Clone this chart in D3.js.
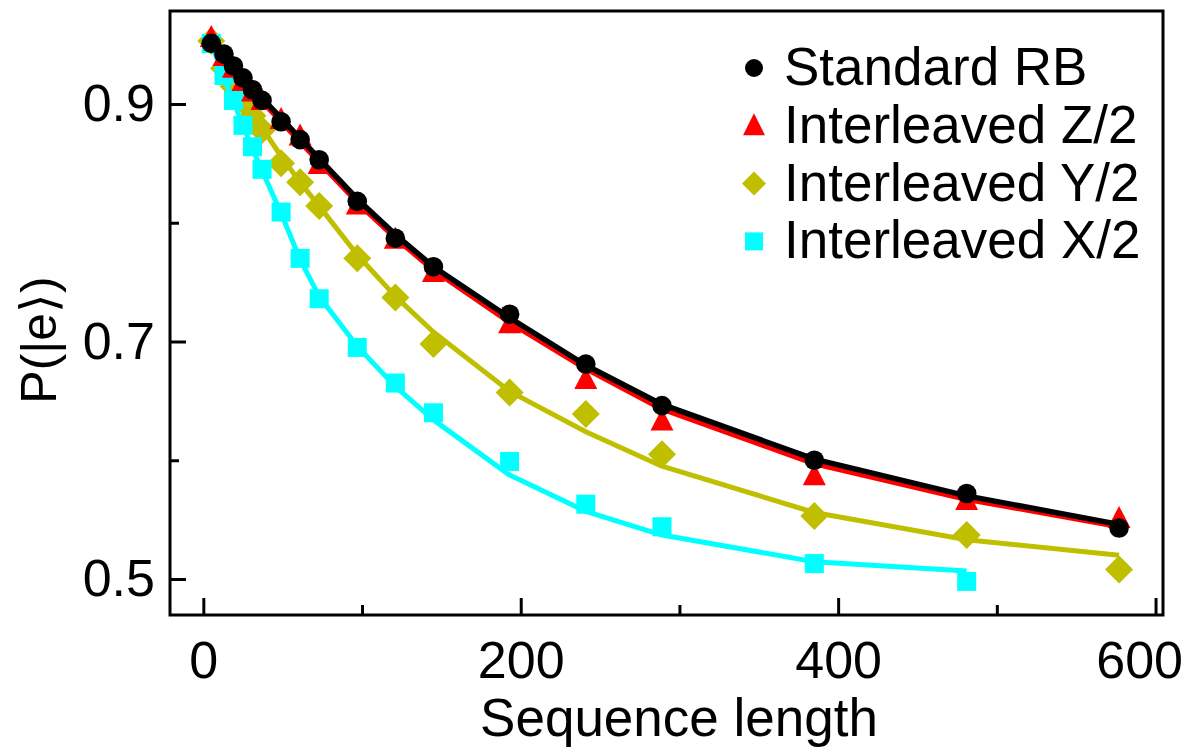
<!DOCTYPE html>
<html>
<head>
<meta charset="utf-8">
<script src="https://cdn.jsdelivr.net/npm/d3@7"></script>
<style>
  html, body { margin: 0; padding: 0; background: #fff; }
  svg text { font-family: "Liberation Sans", Arial, sans-serif; fill: #000; }
</style>
</head>
<body>
<svg id="chart" width="1189" height="748"></svg>
<script>
// Sequence lengths (number of Cliffords)
const seqLength = [5, 13, 19, 25, 31, 37, 49, 61, 73, 97, 121, 145, 193, 241, 289, 385, 481, 577];

// Measured excited-state population and fitted decay for each protocol
const standardRB    = [0.951, 0.942, 0.932, 0.922, 0.912, 0.903, 0.885, 0.870, 0.853, 0.818, 0.787, 0.763, 0.723, 0.681, 0.646, 0.600, 0.572, 0.543];
const standardRBFit = [0.951, 0.940, 0.931, 0.922, 0.913, 0.905, 0.888, 0.871, 0.854, 0.820, 0.790, 0.763, 0.720, 0.680, 0.647, 0.601, 0.570, 0.546];

const interZ    = [0.956, 0.940, 0.930, 0.919, 0.910, 0.903, 0.887, 0.873, 0.849, 0.815, 0.786, 0.758, 0.715, 0.668, 0.633, 0.587, 0.566, 0.551];
const interZFit = [0.951, 0.938, 0.929, 0.919, 0.910, 0.902, 0.885, 0.868, 0.851, 0.817, 0.787, 0.760, 0.716, 0.677, 0.643, 0.597, 0.567, 0.544];

const interY    = [0.953, 0.930, 0.915, 0.903, 0.890, 0.878, 0.850, 0.834, 0.814, 0.770, 0.737, 0.698, 0.657, 0.639, 0.605, 0.553, 0.537, 0.508];
const interYFit = [0.953, 0.934, 0.920, 0.906, 0.893, 0.880, 0.856, 0.834, 0.814, 0.773, 0.738, 0.708, 0.658, 0.624, 0.595, 0.556, 0.533, 0.520];

const interX    = [0.951, 0.924, 0.903, 0.882, 0.864, 0.845, 0.809, 0.770, 0.736, 0.695, 0.665, 0.640, 0.599, 0.563, 0.544, 0.513, 0.498];
const interXFit = [0.951, 0.922, 0.902, 0.882, 0.862, 0.844, 0.808, 0.769, 0.738, 0.696, 0.662, 0.634, 0.5875, 0.557, 0.537, 0.5146, 0.5067];

const seriesNames = ["Standard RB", "Interleaved Z/2", "Interleaved Y/2", "Interleaved X/2"];

const xMajorTicks = [0, 200, 400, 600];
const xMinorTicks = [100, 300, 500];
const yMajorTicks = [0.5, 0.7, 0.9];
const yMinorTicks = [0.6, 0.8];

const xLabel = "Sequence length";
const yLabel = "P(|e\u27E9)";

// ---- layout ----
const frame = { left: 170, right: 1163, top: 11, bottom: 615 };
const svg = d3.select("#chart");

const x = d3.scaleLinear().domain([-21, 604.7]).range([frame.left, frame.right]);
const y = d3.scaleLinear().domain([0.4697, 0.9783]).range([frame.bottom, frame.top]);

// ---- axes (inward ticks) ----
const fontSize = 52;

function styleAxis(g) {
  g.select(".domain").remove();
  g.selectAll(".tick line").attr("stroke", "#000").attr("stroke-width", 3);
  g.selectAll(".tick text")
    .style("font-size", fontSize + "px")
    .attr("fill", "#000");
}

const xMajor = svg.append("g")
  .attr("transform", `translate(0,${frame.bottom})`)
  .call(d3.axisBottom(x).tickValues(xMajorTicks).tickSize(-17).tickPadding(26).tickFormat(d3.format("d")))
  .call(styleAxis);

svg.append("g")
  .attr("transform", `translate(0,${frame.bottom})`)
  .call(d3.axisBottom(x).tickValues(xMinorTicks).tickSize(-10).tickFormat(""))
  .call(styleAxis);

svg.append("g")
  .attr("transform", `translate(${frame.left},0)`)
  .call(d3.axisLeft(y).tickValues(yMajorTicks).tickSize(-16).tickPadding(15).tickFormat(d3.format(".1f")))
  .call(styleAxis);

svg.append("g")
  .attr("transform", `translate(${frame.left},0)`)
  .call(d3.axisLeft(y).tickValues(yMinorTicks).tickSize(-9).tickFormat(""))
  .call(styleAxis);

// keep the last x tick label inside the canvas
xMajor.selectAll(".tick text").each(function () {
  const w = this.getComputedTextLength();
  const tickX = +this.parentNode.getAttribute("transform").match(/translate\(([-\d.]+)/)[1];
  const maxRight = 1183;
  if (tickX + w / 2 > maxRight) d3.select(this).attr("x", maxRight - w / 2 - tickX);
});

// frame
svg.append("rect")
  .attr("x", frame.left).attr("y", frame.top)
  .attr("width", frame.right - frame.left).attr("height", frame.bottom - frame.top)
  .attr("fill", "none").attr("stroke", "#000").attr("stroke-width", 3);

// axis titles
svg.append("text")
  .attr("x", 679).attr("y", 736)
  .attr("text-anchor", "middle")
  .style("font-size", "53px")
  .text(xLabel);

svg.append("text")
  .attr("transform", "translate(56,340) rotate(-90)")
  .attr("text-anchor", "middle")
  .style("font-size", "50px")
  .text(yLabel);

// ---- marker shapes ----
function circlePath(r) { return d3.path().arc ? (() => { const p = d3.path(); p.moveTo(r, 0); p.arc(0, 0, r, 0, 2 * Math.PI); p.closePath(); return p.toString(); })() : ""; }
function trianglePath(w, h) { return `M0,${-h * 0.57}L${w / 2},${h * 0.43}L${-w / 2},${h * 0.43}Z`; }
function diamondPath(s) { return `M0,${-s}L${s},0L0,${s}L${-s},0Z`; }
function squarePath(s) { const h = s / 2; return `M${-h},${-h}H${h}V${h}H${-h}Z`; }

const series = [
  { name: seriesNames[2], xs: seqLength, ys: interY, fit: interYFit, color: "#bfbf00", lw: 5, marker: diamondPath(14), legendMarker: diamondPath(12) },
  { name: seriesNames[3], xs: seqLength.slice(0, interX.length), ys: interX, fit: interXFit, color: "#00ffff", lw: 5, marker: squarePath(19), legendMarker: squarePath(18) },
  { name: seriesNames[1], xs: seqLength, ys: interZ, fit: interZFit, color: "#ff0000", lw: 5, marker: trianglePath(23, 22), legendMarker: trianglePath(22, 22) },
  { name: seriesNames[0], xs: seqLength, ys: standardRB, fit: standardRBFit, color: "#000000", lw: 5.5, marker: circlePath(9.8), legendMarker: circlePath(9) }
];

const line = d3.line().x(d => x(d[0])).y(d => y(d[1]));
const plot = svg.append("g");

series.forEach(s => {
  const g = plot.append("g");
  g.append("path")
    .datum(s.xs.map((v, i) => [v, s.fit[i]]))
    .attr("d", line)
    .attr("fill", "none")
    .attr("stroke", s.color)
    .attr("stroke-width", s.lw)
    .attr("stroke-linejoin", "round");
  g.selectAll("path.pt")
    .data(s.xs.map((v, i) => [v, s.ys[i]]))
    .join("path")
    .attr("class", "pt")
    .attr("d", s.marker)
    .attr("transform", d => `translate(${x(d[0])},${y(d[1])})`)
    .attr("fill", s.color);
});

// ---- legend ----
const legendOrder = [3, 2, 0, 1]; // Standard RB, Z/2, Y/2, X/2
const legend = svg.append("g");
legendOrder.forEach((si, i) => {
  const s = series[si];
  const base = 85 + i * 57.8;
  legend.append("path")
    .attr("d", s.legendMarker)
    .attr("transform", `translate(754,${base - 17})`)
    .attr("fill", s.color);
  legend.append("text")
    .attr("x", 784).attr("y", base)
    .style("font-size", "53px")
    .text(s.name);
});
</script>
</body>
</html>
